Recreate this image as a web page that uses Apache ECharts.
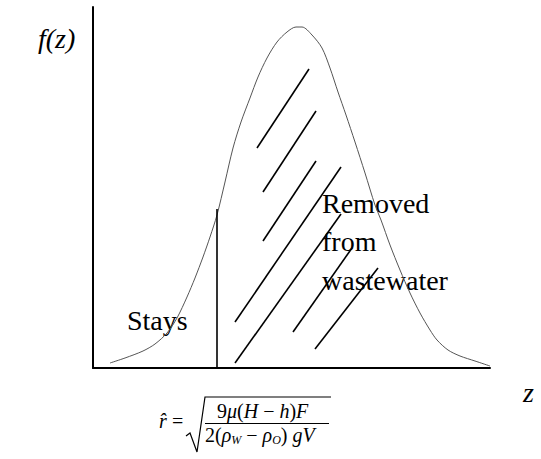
<!DOCTYPE html>
<html>
<head>
<meta charset="utf-8">
<script src="https://cdn.jsdelivr.net/npm/echarts@6/dist/echarts.min.js"></script>
<style>
  html, body { margin: 0; padding: 0; background: #fff; }
  #chart { width: 541px; height: 459px; }
</style>
</head>
<body>
<div id="chart"></div>
<script>
// Distribution curve f(z): z positions and heights
const curveZ = [17, 32, 50, 62, 74, 84, 94, 102, 110, 117, 124, 132, 140, 148, 157, 165, 174, 184, 194, 203,
                209, 219, 229, 237, 245, 253, 262, 272, 282, 288, 297, 307, 317, 327, 337, 344, 355, 367, 382, 397];
const curveF = [5, 10, 17, 24, 35, 50, 71, 90, 111, 131, 153, 186, 220, 246, 270, 291, 310, 326, 336, 341,
                341, 333, 320, 300, 276, 253, 226, 195, 163, 148, 123, 98, 75, 55, 38, 28, 18, 12, 7, 2];

// Cut-off size: particles below it stay
const cutoffZ = 124;
const cutoffTop = 159;

// Hatching over the removed part: [z1, f1, z2, f2]
const hatchSegments = [
  [164, 220, 216, 299],
  [170, 176, 223, 257],
  [170, 127, 223, 207],
  [142, 46, 248, 201],
  [142, 5, 248, 154],
  [200, 36, 259, 120],
  [222, 19, 285, 100]
];

const serif = '"Liberation Serif", "Times New Roman", "DejaVu Serif", serif';

const chart = echarts.init(document.getElementById('chart'), null, { renderer: 'svg' });

const curveData = curveZ.map((z, i) => [z, curveF[i]]);

chart.setOption({
  animation: false,
  grid: { left: 93, top: 7, width: 397, height: 361, containLabel: false },
  xAxis: {
    type: 'value', min: 0, max: 397,
    axisLine: { show: true, lineStyle: { color: '#000', width: 2 } },
    axisTick: { show: false }, axisLabel: { show: false }, splitLine: { show: false }
  },
  yAxis: {
    type: 'value', min: 0, max: 361,
    axisLine: { show: true, lineStyle: { color: '#000', width: 2 } },
    axisTick: { show: false }, axisLabel: { show: false }, splitLine: { show: false }
  },
  series: [
    {
      type: 'line',
      data: curveData,
      smooth: 0.3,
      showSymbol: false,
      lineStyle: { color: '#555', width: 1 },
      z: 2
    },
    {
      type: 'lines',
      coordinateSystem: 'cartesian2d',
      data: [{ coords: [[cutoffZ, 0], [cutoffZ, cutoffTop]] }],
      lineStyle: { color: '#000', width: 1.6, opacity: 1 },
      z: 3
    },
    {
      type: 'lines',
      coordinateSystem: 'cartesian2d',
      data: hatchSegments.map(s => ({ coords: [[s[0], s[1]], [s[2], s[3]]] })),
      lineStyle: { color: '#000', width: 1.6, opacity: 1 },
      z: 3
    }
  ],
  graphic: [
    {
      type: 'text', left: 38, top: 24,
      style: { text: 'f(z)', font: 'italic 28px ' + serif, fill: '#000' }
    },
    {
      type: 'text', x: 127, y: 320.5,
      style: { text: 'Stays', font: '28px ' + serif, fill: '#000', verticalAlign: 'middle' }
    },
    {
      type: 'text', x: 322, y: 184,
      style: { text: 'Removed\nfrom\nwastewater', font: '28px ' + serif, lineHeight: 38.5, fill: '#000', verticalAlign: 'top' }
    },
    {
      type: 'text', x: 523, y: 392.5,
      style: { text: 'z', font: 'italic 28px ' + serif, fill: '#000', verticalAlign: 'middle' }
    },
    // r-hat = sqrt( 9 mu (H - h) F / 2 (rho_W - rho_O) g V )
    {
      type: 'text', x: 159, y: 421,
      style: { text: 'r\u0302', font: 'italic 20px ' + serif, fill: '#000', verticalAlign: 'middle' }
    },
    {
      type: 'text', x: 172, y: 421,
      style: { text: '=', font: '20px ' + serif, fill: '#000', verticalAlign: 'middle' }
    },
    {
      type: 'polyline',
      shape: { points: [[186, 436], [190, 433], [197, 452], [205, 397], [331, 397]] },
      style: { stroke: '#000', lineWidth: 1.2, fill: null }
    },
    {
      type: 'text', x: 217, y: 411,
      style: {
        text: '{n|9}{i|\u03bc}{n|(}{i|H}{n| \u2212 }{i|h}{n|)}{i|F}',
        verticalAlign: 'middle',
        rich: {
          n: { font: '20px ' + serif, fill: '#000', lineHeight: 22 },
          i: { font: 'italic 20px ' + serif, fill: '#000', lineHeight: 22 }
        }
      }
    },
    {
      type: 'line',
      shape: { x1: 205, y1: 423.5, x2: 329, y2: 423.5 },
      style: { stroke: '#000', lineWidth: 1 }
    },
    {
      type: 'text', x: 205, y: 435,
      style: {
        text: '{n|2(}{i|\u03c1}{s|W}{n| \u2212 }{i|\u03c1}{s|O}{n|) }{i|gV}',
        verticalAlign: 'middle',
        rich: {
          n: { font: '20px ' + serif, fill: '#000', lineHeight: 22 },
          i: { font: 'italic 20px ' + serif, fill: '#000', lineHeight: 22 },
          s: { font: 'italic 12px ' + serif, fill: '#000', lineHeight: 11, verticalAlign: 'bottom' }
        }
      }
    }
  ]
});
</script>
</body>
</html>
